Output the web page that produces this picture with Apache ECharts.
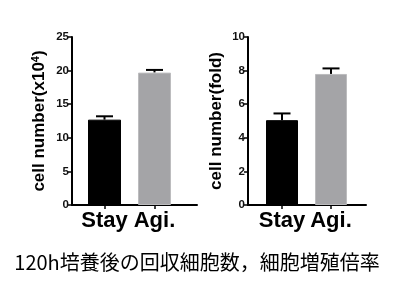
<!DOCTYPE html>
<html><head><meta charset="utf-8">
<script src="https://cdn.jsdelivr.net/npm/echarts@6/dist/echarts.min.js"></script>
<style>html,body{margin:0;padding:0;background:#fff}#c{width:394px;height:289px}</style>
</head><body><div id="c"></div>
<script>
const categories = ['Stay', 'Agi.'];
const countMean = [12.7, 19.7];
const countErr = [0.5, 0.4];
const foldMean = [5.05, 7.8];
const foldErr = [0.4, 0.33];
const countTicks = [0, 5, 10, 15, 20, 25];
const foldTicks = [0, 2, 4, 6, 8, 10];
const barColors = ['#000000', '#a4a4a7'];
const caption = '120h培養後の回収細胞数，細胞増殖倍率';

const FONT = '"Liberation Sans", Arial, sans-serif';
const chart = echarts.init(document.getElementById('c'), null, {renderer: 'canvas'});
const pos = [1, 2];
function barData(vals) {
  return vals.map((v, i) => ({value: [pos[i], v], itemStyle: {color: barColors[i], borderColor: i === 1 ? '#bcbcbe' : '#000', borderWidth: 1}}));
}
function errData(vals, errs) {
  return vals.map((v, i) => [pos[i], v, v + errs[i]]);
}
function errRender(params, api) {
  const x = api.value(0);
  const lo = api.coord([x, api.value(1)]);
  const hi = api.coord([x, api.value(2)]);
  const half = 8.5;
  return {type: 'group', children: [
    {type: 'line', shape: {x1: lo[0], y1: lo[1], x2: hi[0], y2: hi[1]}, style: {stroke: '#000', lineWidth: 2}},
    {type: 'line', shape: {x1: hi[0] - half, y1: hi[1], x2: hi[0] + half, y2: hi[1]}, style: {stroke: '#000', lineWidth: 2}}
  ]};
}
const axisLineStyle = {color: '#000', width: 2};
function xAxis(gridIndex, min, max) {
  return {
    type: 'value', gridIndex, min, max,
    splitLine: {show: false},
    axisLine: {show: true, lineStyle: axisLineStyle, onZero: false},
    axisTick: {show: true, customValues: pos, length: 4, lineStyle: {color: '#000', width: 1.5}},
    axisLabel: {customValues: pos, formatter: v => categories[Math.round(v) - 1] || '', margin: 5,
      fontFamily: FONT, fontWeight: 'bold', fontSize: 22, color: '#000'}
  };
}
function yAxis(gridIndex, ticks, name) {
  return {
    type: 'value', gridIndex, min: ticks[0], max: ticks[ticks.length - 1], interval: ticks[1] - ticks[0],
    splitLine: {show: false},
    axisLine: {show: true, lineStyle: axisLineStyle},
    axisTick: {show: true, length: 4, lineStyle: {color: '#000', width: 1.5}},
    axisLabel: {margin: 3, fontFamily: FONT, fontWeight: 'bold', fontSize: 11.5, color: '#111'},
    name, nameLocation: 'middle', nameRotate: 90, nameGap: 23,
    nameTextStyle: {fontFamily: FONT, fontWeight: 'bold', fontSize: 17, color: '#000',
      rich: {sup: {fontFamily: FONT, fontWeight: 'bold', fontSize: 11, color: '#000', verticalAlign: 'top', padding: [0,0,8,0]}}}
  };
}
chart.setOption({
  animation: false,
  backgroundColor: '#fff',
  title: {text: caption, left: 'center', top: 247,
    textStyle: {fontFamily: 'Noto Sans CJK JP', fontWeight: 'normal', fontSize: 20, color: '#000'}},
  grid: [
    {left: 72, top: 37, width: 125, height: 168},
    {left: 248, top: 37, width: 118, height: 168}
  ],
  xAxis: [xAxis(0, 0.35, 2.85), xAxis(1, 0.306, 2.714)],
  yAxis: [yAxis(0, countTicks, 'cell number(x10{sup|4})'), yAxis(1, foldTicks, 'cell number(fold)')],
  series: [
    {type: 'bar', xAxisIndex: 0, yAxisIndex: 0, barWidth: 33, data: barData(countMean)},
    {type: 'custom', xAxisIndex: 0, yAxisIndex: 0, renderItem: errRender, data: errData(countMean, countErr), z: 1},
    {type: 'bar', xAxisIndex: 1, yAxisIndex: 1, barWidth: 32, data: barData(foldMean)},
    {type: 'custom', xAxisIndex: 1, yAxisIndex: 1, renderItem: errRender, data: errData(foldMean, foldErr), z: 1}
  ]
});
</script></body></html>
